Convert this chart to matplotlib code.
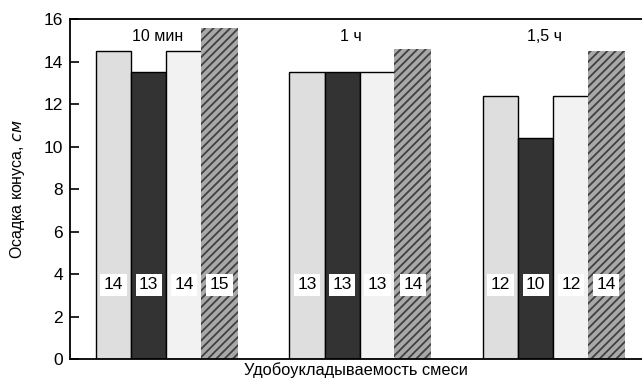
import numpy as np
import matplotlib
matplotlib.use('Agg')
import matplotlib.pyplot as plt

# data
groups = ['10 мин', '1 ч', '1,5 ч']
series_a = [14.5, 13.5, 12.4]   # light grey
series_b = [13.5, 13.5, 10.4]   # dark
series_c = [14.5, 13.5, 12.4]   # near white
series_d = [15.6, 14.6, 14.5]   # textured
labels_a = ['14', '13', '12']
labels_b = ['13', '13', '10']
labels_c = ['14', '13', '12']
labels_d = ['15', '14', '14']

plt.rcParams['font.family'] = ['Liberation Sans Narrow', 'Liberation Sans', 'DejaVu Sans']
plt.rcParams['hatch.linewidth'] = 1.3

fig = plt.figure(figsize=(6.42, 3.82), dpi=100)
ax = fig.add_axes([0.109, 0.060, 0.891, 0.890])

spacing = 5.48
centers = np.arange(len(groups)) * spacing
w = 1.0

ax.bar(centers - 1.5 * w, series_a, width=w, color='#dedede', edgecolor='black', linewidth=1.0)
ax.bar(centers - 0.5 * w, series_b, width=w, color='#333333', edgecolor='black', linewidth=1.0)
ax.bar(centers + 0.5 * w, series_c, width=w, color='#f2f2f2', edgecolor='black', linewidth=1.0)
ax.bar(centers + 1.5 * w, series_d, width=w + 0.05, color='#a8a8a8', edgecolor='#404040',
       hatch='////', linewidth=0)

offsets = [-1.5, -0.5, 0.5, 1.5]
all_labels = [labels_a, labels_b, labels_c, labels_d]
for off, labs in zip(offsets, all_labels):
    for c, lab in zip(centers, labs):
        ax.text(c + off * w, 3.5, lab, ha='center', va='center', fontsize=12.5,
                bbox=dict(facecolor='white', edgecolor='none', pad=2.5))

for c, g in zip(centers, groups):
    ax.text(c - 0.25, 15.2, g, ha='center', va='center', fontsize=11.5)

ax.set_ylim(0, 16)
ax.set_xlim(-2.73, 13.47)
ax.set_yticks(np.arange(0, 17, 2))
ax.set_xticks([])
ax.tick_params(axis='y', direction='in', length=6.5, width=1.2, labelsize=12.5, pad=5)

ax.spines['right'].set_visible(False)
for s in ['left', 'top', 'bottom']:
    ax.spines[s].set_linewidth(1.3)

ax.set_ylabel('Осадка конуса, $\\it{см}$', fontsize=11.5, labelpad=12)
ax.set_xlabel('Удобоукладываемость смеси', fontsize=11.8, labelpad=2)

fig.savefig('out.png', dpi=100)
